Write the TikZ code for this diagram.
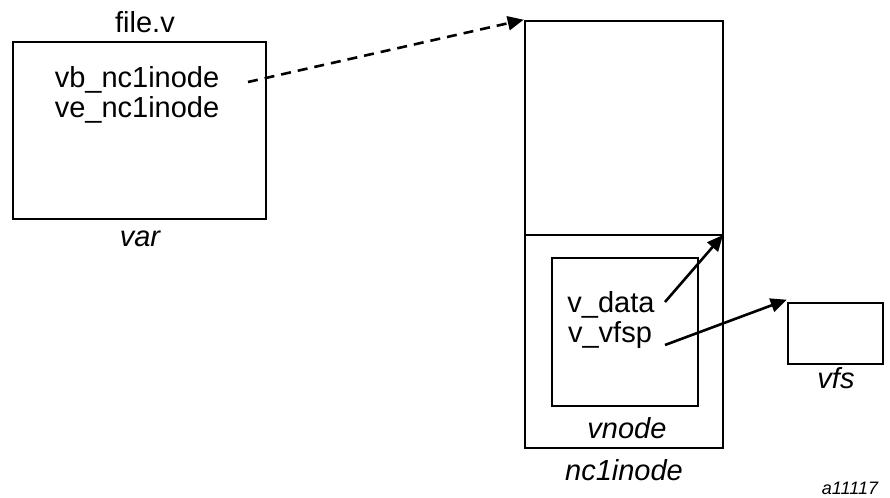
\documentclass[tikz,border=0pt]{standalone}
\usepackage{fontspec}
\setmainfont{Liberation Sans}
\usetikzlibrary{arrows.meta,fit}
\begin{document}
\begin{tikzpicture}[x=0.5pt,y=-0.5pt,
  box/.style={draw,line width=1.3pt,inner sep=0pt},
  lbl/.style={font=\fontsize{14.5}{17}\selectfont,inner sep=0pt},
  ilbl/.style={font=\fontsize{14.5}{17}\selectfont\itshape,inner sep=0pt},
  ptr/.style={line width=1.3pt,-{Triangle[length=8pt,width=7pt]}},
  dptr/.style={ptr,dash pattern=on 5pt off 3.5pt}]
\useasboundingbox (0,0) rectangle (890,498);
% var structure
\coordinate (varTL) at (13,42);
\coordinate (varBR) at (266,219);
\node[box,fit=(varTL)(varBR)] (var) {};
\node[lbl] (filev) at (145,22) {file.v};
\node[ilbl] (varname) at (140,239) {var};
\node[lbl,anchor=base] (vb) at (137,87) {vb\_nc1inode};
\node[lbl,anchor=base] (ve) at (137,117) {ve\_nc1inode};
% nc1inode structure
\coordinate (ncTL) at (525,21);
\coordinate (ncBR) at (723,448);
\node[box,fit=(ncTL)(ncBR)] (nc) {};
\coordinate (divL) at (525,235);
\coordinate (divR) at (723,235);
\draw[line width=1.3pt] (divL) -- (divR);
\node[ilbl] (ncname) at (624,470) {nc1inode};
% vnode inside nc1inode
\coordinate (vnTL) at (552,258);
\coordinate (vnBR) at (698,406);
\node[box,fit=(vnTL)(vnBR)] (vn) {};
\node[ilbl] (vnname) at (627,428) {vnode};
\node[lbl,anchor=base] (vdata) at (611,312) {v\_data};
\node[lbl,anchor=base] (vvfsp) at (610,342) {v\_vfsp};
% vfs structure
\coordinate (vfsTL) at (788,303);
\coordinate (vfsBR) at (883,364);
\node[box,fit=(vfsTL)(vfsBR)] (vfs) {};
\node[ilbl] (vfsname) at (836,378) {vfs};
% figure tag
\node[font=\fontsize{9}{11}\selectfont\itshape,inner sep=0pt] (tag) at (850,488) {a11117};
% pointers
\coordinate (dstart) at (248,82);
\draw[dptr] (dstart) -- (nc.north west);
\coordinate (vdend) at (665,302);
\draw[ptr] (vdend) -- (divR);
\coordinate (vvend) at (665,345);
\draw[ptr] (vvend) -- ([yshift=1pt]vfs.north west);
\end{tikzpicture}
\end{document}
